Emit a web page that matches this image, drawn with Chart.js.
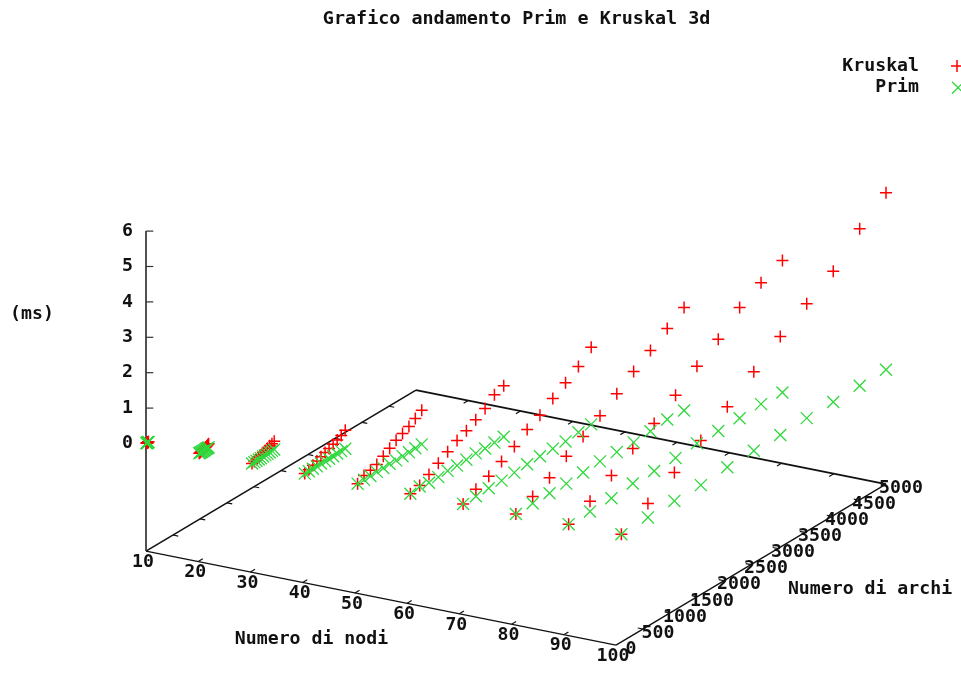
<!DOCTYPE html>
<html>
<head>
<meta charset="utf-8">
<style>html,body{margin:0;padding:0;background:#fff}canvas{display:block}</style>
<script src="https://cdn.jsdelivr.net/npm/chart.js@4/dist/chart.umd.min.js"></script>
</head>
<body>
<canvas id="c" width="961" height="674"></canvas>
<script>
const titleText = "Grafico andamento Prim e Kruskal 3d";
const nodeTicks = [10,20,30,40,50,60,70,80,90,100];
const edgeTicks = [0,500,1000,1500,2000,2500,3000,3500,4000,4500,5000];
const msTicks = [0,1,2,3,4,5,6];

const nodeCounts = [10,20,30,40,50,60,70,80,90,100];
const edgesByNodes = [
  [9,13,16,20,23,27,31,34,38,41,45],
  [19,36,54,71,88,106,123,141,158,175,192],
  [29,71,111,153,193,235,276,316,358,398,440],
  [39,114,189,264,339,415,489,564,639,714,789],
  [50,169,288,406,526,644,763,882,1001,1119,1238],
  [60,233,405,578,751,925,1098,1271,1444,1617,1789],
  [70,307,545,782,1019,1256,1493,1731,1967,2205,2442],
  [80,391,703,1014,1325,1638,1949,2261,2572,2883,3195],
  [90,486,883,1278,1674,2070,2466,2861,3257,3653,4049],
  [100,591,1081,1571,2061,2552,3042,3532,4023,4513,5000]
];
const kruskalMs = [
  [0,0,0,0,0,0,0,0,.01,.01,.01],
  [0,.01,.02,.03,.04,.05,.06,.07,.08,.1,.11],
  [0,.02,.04,.07,.09,.12,.14,.17,.2,.22,.25],
  [0,.04,.1,.15,.2,.25,.3,.35,.4,.46,.54],
  [0,.12,.16,.22,.34,.46,.58,.66,.75,.87,.99],
  [0,.08,.23,.39,.56,.72,.84,.99,1.15,1.38,1.48],
  [0,.2,.35,.55,.76,1.02,1.21,1.47,1.7,1.94,2.27],
  [0,.21,.46,.78,1.06,1.36,1.7,2.04,2.35,2.69,3],
  [0,.29,.65,1.06,1.4,1.84,2.3,2.7,3.24,3.58,3.85],
  [0,.42,.85,1.31,1.82,2.36,2.91,3.39,3.86,4.62,5.19]
];
const primMs = [
  [0,0,0,0,0,0,0,0,0,0,0],
  [0,0,0,0,0,0,0,.01,.01,.01,.01],
  [0,0,0,0,0,.01,.01,.01,.01,.02,.02],
  [0,0,0,0,.01,.01,.01,.01,.02,.02,.02],
  [0,0,0,.01,.01,.02,.01,.02,.02,.03,.03],
  [0,.05,0,0,.02,.01,.02,.04,.02,.03,.04],
  [0,0,.01,.01,.02,.04,.05,.05,.04,.08,.09],
  [0,.02,.02,.01,.04,.07,.05,.04,.07,.12,.09],
  [0,0,.01,.07,.06,.07,.12,.11,.11,.15,.12],
  [0,.03,.05,.05,.11,.13,.13,.16,.17,.18,.19]
];

/* View of the 3D box: how nodes, edges and ms map onto the two flat scales */
const PX_PER_NODE = 470 / 90, PX_PER_MS = 35.4;
const ORIGIN_PX = 146, ZERO_PX = 443.5;
const EDGE_TO_X = 0.054 / PX_PER_NODE;
const EDGE_TO_Y = 0.0322 / PX_PER_MS;
const NODE_TO_Y = -(94 / 90) / PX_PER_MS;
const BASE_MS = -3.04;
const project = (n, e, z) => ({ x: n + e * EDGE_TO_X, y: z + e * EDGE_TO_Y + (n - 10) * NODE_TO_Y });

const seriesPoints = ms => nodeCounts.flatMap((n, i) => edgesByNodes[i].map((e, k) => project(n, e, ms[i][k])));

const FONT = 'bold 18.2px "DejaVu Sans Mono"';
const INK = '#111';
const KRUSKAL_RED = '#ff0000', PRIM_GREEN = '#2fd83c';

const box3d = {
  id: 'box3d',
  afterLayout(chart) {
    const a = chart.chartArea, X = chart.scales.x, Y = chart.scales.y;
    X.min = 10 - (ORIGIN_PX - a.left) / PX_PER_NODE;
    X.max = X.min + (a.right - a.left) / PX_PER_NODE;
    X.configure();
    Y.max = (ZERO_PX - a.top) / PX_PER_MS;
    Y.min = Y.max - (a.bottom - a.top) / PX_PER_MS;
    Y.configure();
  },
  beforeDatasetsDraw(chart) {
    const { x: X, y: Y } = chart.scales;
    const g = chart.ctx;
    const seg = (a, b) => {
      g.beginPath();
      g.moveTo(X.getPixelForValue(a.x), Y.getPixelForValue(a.y));
      g.lineTo(X.getPixelForValue(b.x), Y.getPixelForValue(b.y));
      g.stroke();
    };
    g.save();
    g.strokeStyle = INK;
    const A = project(10,0,BASE_MS), B = project(100,0,BASE_MS), C = project(100,5000,BASE_MS), D = project(10,5000,BASE_MS);
    g.lineWidth = 1.3;
    seg(A,B); seg(B,C);
    g.lineWidth = 1.6;
    seg(D,A);
    g.lineWidth = 2;
    seg(C,D);
    g.lineWidth = 1.2;
    nodeTicks.slice(1,-1).forEach(n => {
      seg(project(n,0,BASE_MS), project(n,85,BASE_MS));
      seg(project(n,5000,BASE_MS), project(n,4915,BASE_MS));
    });
    edgeTicks.slice(1,-1).forEach(e => {
      seg(project(10,e,BASE_MS), project(11,e,BASE_MS));
      seg(project(100,e,BASE_MS), project(99,e,BASE_MS));
    });
    g.strokeStyle = '#333'; g.lineWidth = 1.7;
    seg(project(10,0,BASE_MS), project(10,0,6));
    g.lineWidth = 1.2;
    msTicks.slice(1).forEach(z => {
      const p = project(10,0,z);
      seg(p, { x: p.x + 1.4, y: p.y });
    });
    g.restore();
  },
  afterDraw(chart) {
    const { x: X, y: Y } = chart.scales;
    const g = chart.ctx;
    g.save();
    g.font = FONT; g.fillStyle = INK; g.textAlign = 'center'; g.textBaseline = 'middle';
    nodeTicks.forEach(n => {
      const p = project(n,0,BASE_MS);
      g.fillText(String(n), X.getPixelForValue(p.x) - 3, Y.getPixelForValue(p.y) + 11);
    });
    edgeTicks.forEach(e => {
      const p = project(100,e,BASE_MS);
      g.fillText(String(e), X.getPixelForValue(p.x) + 15, Y.getPixelForValue(p.y) + 4);
    });
    g.fillText('Numero di nodi', 311.5, 639);
    g.fillText('Numero di archi', 870, 589);
    g.fillText('(ms)', 32, 314);
    /* key, top right: text right-aligned, symbol after it */
    g.textAlign = 'right';
    chart.data.datasets.forEach((ds, i) => {
      const ly = 66 + i * 21.7;
      g.fillStyle = INK;
      g.fillText(ds.label, 919, ly);
      g.strokeStyle = ds.borderColor; g.fillStyle = ds.borderColor;
      g.lineWidth = ds.pointBorderWidth;
      Chart.helpers.drawPoint(g, { pointStyle: ds.pointStyle, radius: ds.pointRadius, rotation: 0, borderWidth: ds.pointBorderWidth }, 957 + i, ly);
    });
    g.restore();
  }
};

new Chart(document.getElementById('c'), {
  type: 'scatter',
  data: {
    datasets: [
      { label: 'Kruskal', data: seriesPoints(kruskalMs), order: 2, pointStyle: 'cross', pointRadius: 6, pointBorderWidth: 1.5, borderColor: KRUSKAL_RED, backgroundColor: KRUSKAL_RED, pointBorderColor: KRUSKAL_RED, borderWidth: 1.5 },
      { label: 'Prim', data: seriesPoints(primMs), order: 1, pointStyle: 'crossRot', pointRadius: 8.5, pointBorderWidth: 1.3, borderColor: PRIM_GREEN, backgroundColor: PRIM_GREEN, pointBorderColor: PRIM_GREEN, borderWidth: 1.3 }
    ]
  },
  plugins: [box3d],
  options: {
    responsive: false,
    animation: false,
    layout: { padding: { left: 82, right: 0, top: 0, bottom: 0 } },
    plugins: {
      tooltip: { enabled: false },
      legend: { display: false },
      title: {
        display: true, text: titleText, fullSize: false, color: INK,
        font: { family: 'DejaVu Sans Mono', size: 18.4, weight: 'bold', lineHeight: 1.2 },
        padding: { top: 8, bottom: 6 }
      }
    },
    scales: {
      x: { type: 'linear', display: false, min: 0, max: 200 },
      y: {
        type: 'linear', position: { x: 7.5 }, min: -7, max: 12,
        afterBuildTicks(axis) { axis.ticks = msTicks.map(v => ({ value: v })); },
        grid: { display: false, drawTicks: false },
        border: { display: false },
        ticks: { padding: 0, color: INK, font: { family: 'DejaVu Sans Mono', size: 18.2, weight: 'bold' } }
      }
    }
  }
});
</script>
</body>
</html>
